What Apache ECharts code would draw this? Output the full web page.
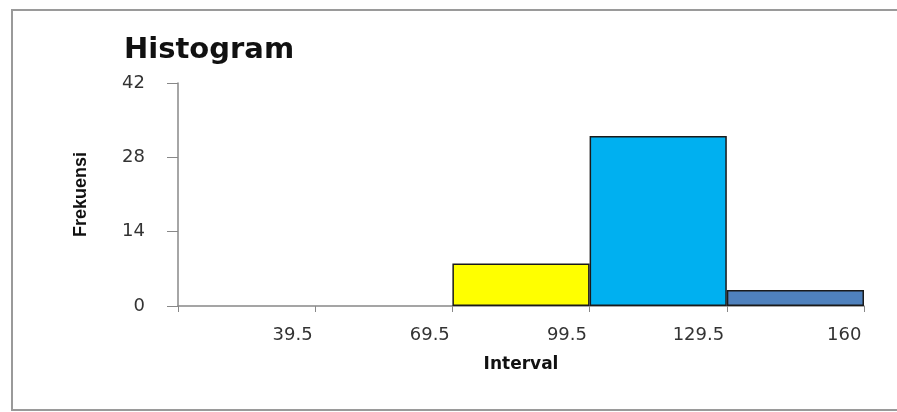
<!DOCTYPE html>
<html>
<head>
<meta charset="utf-8">
<script src="https://cdn.jsdelivr.net/npm/echarts@6/dist/echarts.min.js"></script>
<style>
html,body{margin:0;padding:0;background:#fff;}
#chart{width:897px;height:412px;}
</style>
</head>
<body>
<div id="chart"></div>
<script>
const categories = ['39.5', '69.5', '99.5', '129.5', '160'];
const frequencies = [0, 0, 8, 32, 3];
const barColors = ['#FFFF00', '#FFFF00', '#FFFF00', '#00B0F0', '#4F81BD'];
const yTicks = [0, 14, 28, 42];

const chart = echarts.init(document.getElementById('chart'));
chart.setOption({
  animation: false,
  backgroundColor: '#fff',
  graphic: [{
    type: 'rect',
    shape: { x: 12, y: 10, width: 900, height: 400 },
    style: { fill: 'none', stroke: '#9a9a9a', lineWidth: 2 },
    silent: true
  }],
  title: {
    text: 'Histogram',
    left: 119,
    top: 31,
    textStyle: { fontFamily: 'DejaVu Sans', fontWeight: 'bold', fontSize: 29, color: '#111' }
  },
  grid: { left: 178, right: 33, top: 83, bottom: 106 },
  xAxis: {
    type: 'category',
    data: categories,
    name: 'Interval',
    nameLocation: 'middle',
    nameGap: 50,
    nameTextStyle: { fontFamily: 'DejaVu Sans', fontWeight: 'bold', fontSize: 17, color: '#111' },
    axisLine: { lineStyle: { color: '#888', width: 1.5 } },
    axisTick: { show: true, length: 6, lineStyle: { color: '#888' } },
    axisLabel: {
      margin: 20,
      interval: 0,
      formatter: v => '{r|' + v + '}',
      rich: { r: { width: 132, align: 'right', fontFamily: 'DejaVu Sans', fontSize: 18, color: '#333' } }
    }
  },
  yAxis: {
    type: 'value',
    min: yTicks[0],
    max: yTicks[yTicks.length - 1],
    interval: yTicks[1] - yTicks[0],
    name: 'Frekuensi',
    nameLocation: 'middle',
    nameRotate: 90,
    nameGap: 88,
    nameTextStyle: { fontFamily: 'Liberation Sans Narrow, Liberation Sans', fontWeight: 'bold', fontSize: 18, color: '#111' },
    axisLine: { show: true, lineStyle: { color: '#888', width: 1.5 } },
    axisTick: { show: true, length: 11, lineStyle: { color: '#888' } },
    splitLine: { show: false },
    axisLabel: { margin: 33, fontFamily: 'DejaVu Sans', fontSize: 18, color: '#333' }
  },
  series: [{
    type: 'bar',
    data: frequencies.map((v, i) => ({
      value: v,
      itemStyle: { color: barColors[i], borderWidth: v === 0 ? 0 : 1.5 }
    })),
    barWidth: '100%',
    barCategoryGap: 0,
    itemStyle: { borderColor: '#1a1a1a', borderWidth: 1.5 }
  }]
});
</script>
</body>
</html>
